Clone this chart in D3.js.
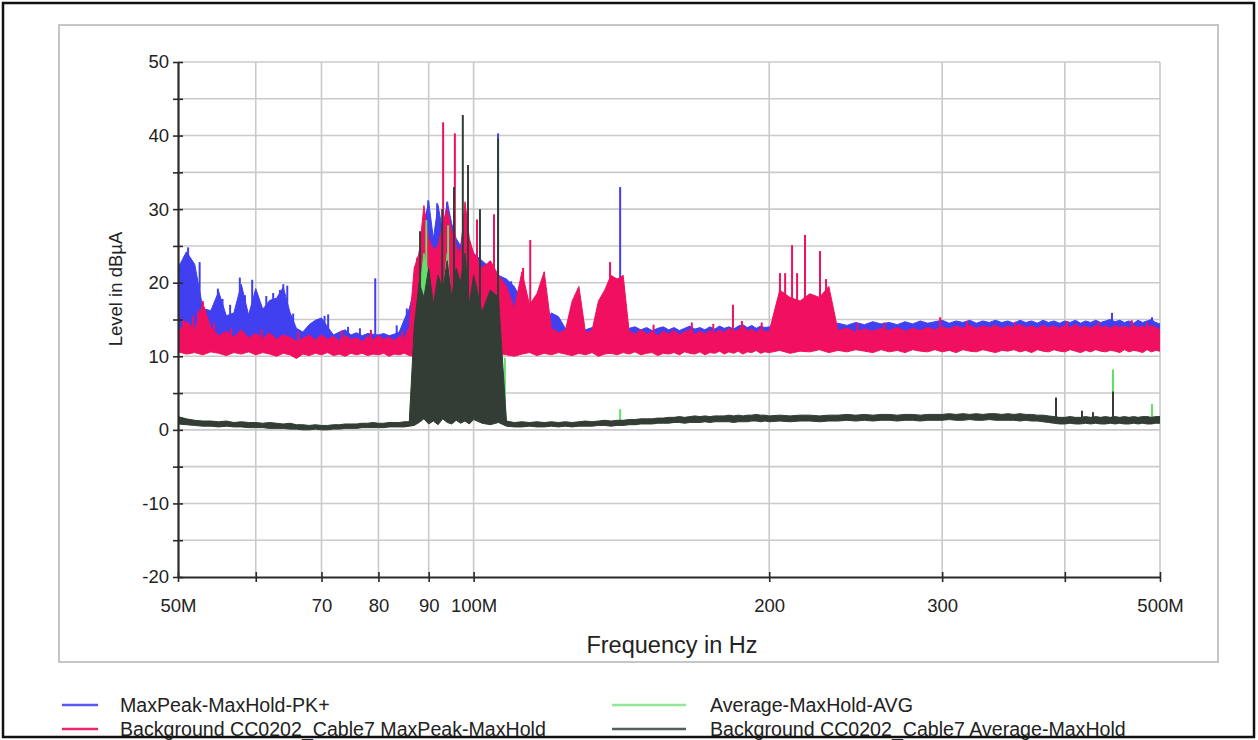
<!DOCTYPE html>
<html>
<head>
<meta charset="utf-8">
<script src="https://cdn.jsdelivr.net/npm/d3@7"></script>
<style>
  body { margin: 0; background: #fff; }
  svg { display: block; }
</style>
</head>
<body>
<svg id="chart" width="1258" height="740"></svg>
<script>
// Sweep frequencies in MHz (one column of the spectrum display per entry)
const sweepMHz = [
  50,51,52,53,54,55,56,57,58,59,
  60,61,62,63,64,65,66,67,68,69,
  70,71,72,73,74,75,76,77,78,79,
  80,81,82,83,84,85,86,87,88,89,
  90,91,92,93,94,95,96,97,98,99,
  100,102,104,106,108,110,112,114,116,118,
  120,122,124,126,128,130,132,134,136,138,
  140,142,144,146,148,150,152,154,156,158,
  160,162,164,166,168,170,172,174,176,178,
  180,182,184,186,188,190,192,194,196,198,
  200,205,210,215,220,225,230,235,240,245,
  250,255,260,265,270,275,280,285,290,295,
  300,305,310,315,320,325,330,335,340,345,
  350,355,360,365,370,375,380,385,390,395,
  400,405,410,415,420,425,430,435,440,445,
  450,455,460,465,470,475,480,485,490,495,
  500
];

// MaxPeak-MaxHold-PK+ : upper / lower envelope per column (dBµA)
const pkHi = [
  22.0,24.2,22.5,16.5,16.2,18.8,15.5,15.9,19.8,15.6,
  19.2,16.4,17.6,17.9,19.4,16.0,13.8,13.3,14.3,14.9,
  15.2,14.0,12.9,13.3,13.6,12.9,13.2,12.8,13.1,13.0,
  12.9,13.1,12.8,13.0,13.3,15.0,16.5,19.0,24.0,28.0,
  31.0,26.0,30.5,27.0,31.0,28.0,26.0,25.0,29.0,25.0,
  24.0,23.0,22.0,21.0,20.5,19.5,17.5,15.5,15.0,14.5,
  15.9,15.4,13.8,13.5,13.7,13.6,13.9,13.5,13.8,14.0,
  13.9,14.2,13.8,14.0,13.6,13.9,13.5,13.8,14.0,13.6,
  13.9,13.5,13.8,14.1,13.7,13.9,13.6,14.0,13.7,14.1,
  13.8,14.0,13.7,14.1,14.3,13.9,14.2,13.8,14.1,13.9,
  14.0,14.2,14.0,14.3,14.1,14.4,14.2,14.5,14.2,14.6,
  14.3,14.7,14.4,14.6,14.3,14.7,14.4,14.8,14.5,14.7,
  14.9,14.5,14.8,14.6,14.9,14.5,14.8,14.6,14.9,14.6,
  14.8,14.5,14.9,14.6,14.8,14.5,14.9,14.6,14.8,14.5,
  14.8,14.6,14.9,14.5,14.8,14.6,14.9,14.6,14.8,15.0,
  14.7,14.9,14.6,14.8,14.5,14.9,14.6,14.8,15.0,14.6,
  14.4
];
const pkLo = [
  11.4,11.0,11.6,11.2,11.5,11.1,11.7,11.3,11.0,11.5,
  11.2,11.6,11.0,11.4,11.1,11.7,11.3,11.0,11.5,11.2,
  11.6,11.1,11.4,11.0,11.5,11.2,11.7,11.3,11.1,11.5,
  11.2,11.6,11.0,11.4,11.3,11.7,11.1,11.5,11.2,11.6,
  11.3,11.0,11.5,11.2,11.6,11.1,11.4,11.7,11.2,11.5,
  11.1,11.6,11.3,11.0,11.5,11.2,11.7,11.4,11.1,11.5,
  11.3,11.6,11.1,11.4,11.7,11.2,11.5,11.0,11.4,11.6,
  11.2,11.5,11.7,11.3,11.6,11.1,11.5,11.8,11.3,11.6,
  11.4,11.7,11.2,11.6,11.8,11.3,11.5,11.7,11.4,11.8,
  11.5,11.7,11.3,11.6,11.8,11.4,11.7,11.5,11.8,11.6,
  11.7,11.4,11.8,11.6,11.9,11.5,11.7,11.8,11.6,11.9,
  11.7,11.5,11.9,11.6,11.8,11.7,11.9,11.6,11.8,11.7,
  11.9,11.6,11.8,11.7,11.9,11.6,11.8,11.7,11.9,11.8,
  11.6,11.9,11.7,11.8,11.6,11.9,11.7,11.8,11.6,11.9,
  11.7,11.8,11.6,11.9,11.7,11.8,11.6,11.9,11.7,11.8,
  11.6,11.9,11.7,11.8,11.6,11.9,11.7,11.8,11.6,11.9,
  11.7
];
// Narrow spurs: [MHz, from dBµA, to dBµA]
const pkSpikes = [
  [50.5,14,21.5],[51.2,14,24.8],[52.6,14,22.8],[54.9,14,19.2],[55.5,14,17.8],
  [56.5,14,17.0],[57.8,14,20.7],[58.5,14,18.3],[59.5,14,20.4],[61.5,14,18.2],
  [62.5,14,18.6],[63.5,14,19.0],[64.0,14,19.8],[64.6,14,19.6],[65.5,13,15.8],
  [69.5,12.5,15.0],[70.5,12.5,15.5],[71.1,12.5,15.7],[74.5,12.5,14.0],[76.6,12.5,13.8],
  [79.4,12.5,20.6],[83.5,12.5,14.2],[85.5,13,16.5],[86.5,13,17.5],[89.9,20,31.2],
  [91.8,20,30.8],[94.0,20,31.0],[105.9,20,40.3],[109.2,14,20.2],[141.0,13,33.0],
  [446.8,14,15.9],[490.7,14,15.3]
];

// Background CC0202_Cable7 MaxPeak-MaxHold
const bgPkHi = [
  13.2,14.8,13.6,17.2,13.9,12.8,13.4,12.6,13.6,12.5,
  13.1,12.4,13.2,12.3,12.9,12.6,12.0,12.4,12.9,12.2,
  12.9,12.3,12.7,12.1,12.8,12.3,12.5,12.0,12.7,12.2,
  12.8,12.3,12.6,12.1,12.7,12.4,14.0,22.0,24.0,30.5,
  26.0,24.5,25.0,28.0,30.0,27.0,25.0,24.0,31.0,26.0,
  24.0,22.0,23.0,21.0,19.5,16.5,21.5,17.0,18.5,21.5,
  13.8,13.2,13.5,17.5,19.5,13.2,13.5,17.5,19.0,21.0,
  20.5,21.0,13.4,13.0,13.6,13.0,13.3,12.8,13.4,13.0,
  13.5,12.9,13.3,13.6,13.0,13.4,13.0,13.5,13.1,13.6,
  13.2,13.8,13.3,13.6,14.2,13.4,13.7,13.2,13.8,13.3,
  13.4,19.0,18.0,17.5,18.5,18.0,19.5,13.5,13.8,13.3,
  13.7,13.4,13.8,13.5,13.9,13.4,13.8,13.5,13.9,13.6,
  14.0,13.7,14.1,13.8,14.2,13.8,14.1,13.9,14.2,13.8,
  14.1,13.9,14.3,13.9,14.1,13.8,14.2,13.9,14.1,13.8,
  14.2,13.9,14.3,13.9,14.1,13.8,14.2,13.9,14.1,13.8,
  14.2,13.9,14.1,13.8,14.2,13.9,14.1,13.8,14.2,13.9,
  13.6
];
const bgPkLo = [
  10.6,10.3,10.5,10.2,10.6,10.4,10.1,10.5,10.3,10.6,
  10.2,10.5,10.3,10.0,10.4,10.2,9.7,10.3,10.1,10.4,
  10.2,10.5,10.1,10.3,10.0,10.4,10.2,10.4,10.1,10.3,
  10.2,10.4,10.0,10.3,10.2,10.4,10.1,10.0,10.2,10.0,
  10.3,10.1,10.2,10.0,10.3,10.1,10.2,10.0,10.2,10.4,
  10.2,10.5,10.1,10.4,10.2,10.0,10.3,10.5,10.1,10.4,
  10.2,10.5,10.3,10.1,10.4,10.2,10.5,10.0,10.3,10.4,
  10.2,10.5,10.3,10.6,10.2,10.4,10.5,10.1,10.4,10.3,
  10.5,10.2,10.6,10.4,10.3,10.6,10.2,10.5,10.4,10.7,
  10.3,10.6,10.4,10.7,10.3,10.6,10.5,10.8,10.4,10.6,
  10.5,10.8,10.4,10.7,10.6,10.9,10.5,10.8,10.6,10.9,
  10.7,10.5,10.9,10.6,10.8,10.5,10.9,10.7,10.6,10.9,
  10.6,10.8,10.5,10.9,10.7,10.6,10.9,10.7,10.5,10.8,
  10.7,10.9,10.6,10.8,10.5,10.9,10.7,10.6,10.9,10.7,
  10.6,10.9,10.7,10.5,10.8,10.6,10.9,10.7,10.6,10.8,
  10.7,10.5,10.9,10.6,10.8,10.7,10.5,10.9,10.6,10.8,
  10.7
];
const bgPkSpikes = [
  [50.6,11,15.0],[51.8,11,15.5],[52.4,11,16.2],[53.0,12,17.5],[54.4,11,14.5],
  [56.6,11,13.8],[60.8,11,13.6],[66.3,10,13.3],[73.4,11,13.5],[78.6,11,13.6],
  [84.6,11,13.4],[87.6,12,23.4],[93.1,20,41.8],[95.7,20,40.3],[98.7,20,32.5],
  [100.8,18,28.6],[104.9,18,29.3],[112.3,14,22.0],[114.2,14,25.8],[137.7,14,22.8],
  [152.5,12,14.3],[166.8,12,14.6],[175.4,12,14.4],[183.7,13,17.0],[187.6,13,14.8],
  [196.5,12,14.6],[205.1,17,21.3],[207.6,17,21.3],[211.0,17,25.1],[213.5,17,21.3],
  [217.5,17,26.5],[225.3,17,24.3],[228.5,17,20.5],[246,12,14.5],[262,12,14.6],
  [298.6,13,15.3],[318,12,14.8],[356,12,14.7],[402,12,14.8],[433,12,14.7],
  [468,12,14.9],[485,12,14.6]
];

// Average-MaxHold-AVG
const avHi = [
  1.7,1.4,1.2,1.1,1.1,1.0,1.1,0.9,1.0,0.9,
  0.9,0.8,0.9,0.8,0.7,0.8,0.6,0.6,0.5,0.6,
  0.5,0.5,0.6,0.6,0.7,0.7,0.7,0.8,0.8,0.9,
  0.8,0.8,0.9,0.9,0.9,1.0,1.0,12.0,18.0,24.0,
  21.0,16.0,19.0,18.0,24.0,17.0,20.0,19.0,22.0,16.0,
  19.0,15.0,17.0,16.0,1.1,0.9,1.0,0.9,1.0,0.9,
  1.0,0.9,1.0,0.9,1.0,1.1,1.0,1.1,1.2,1.1,
  1.2,1.2,1.3,1.3,1.4,1.4,1.4,1.5,1.5,1.6,
  1.6,1.7,1.6,1.7,1.8,1.7,1.8,1.7,1.8,1.8,
  1.8,1.9,1.8,1.9,1.8,1.9,1.9,2.0,1.9,1.9,
  1.8,1.9,1.8,1.9,1.9,1.8,1.9,1.9,2.0,1.9,
  2.0,1.9,2.0,2.0,1.9,2.0,2.0,1.9,2.0,2.0,
  2.0,2.1,2.0,2.1,2.0,2.1,2.0,2.1,2.1,2.0,
  2.1,2.0,2.1,2.0,2.0,1.9,1.9,1.8,1.7,1.6,
  1.6,1.7,1.6,1.6,1.7,1.6,1.7,1.6,1.7,1.6,
  1.7,1.6,1.7,1.6,1.7,1.6,1.7,1.7,1.6,1.7,
  1.7
];
const avLo = [
  0.9,0.8,0.7,0.6,0.6,0.5,0.6,0.5,0.5,0.4,
  0.4,0.4,0.3,0.3,0.3,0.2,0.2,0.1,0.1,0.2,
  0.1,0.1,0.2,0.2,0.3,0.3,0.3,0.4,0.4,0.4,
  0.4,0.4,0.5,0.5,0.5,0.5,0.6,0.7,1.1,1.6,
  0.9,1.3,0.8,1.6,1.1,0.9,1.4,1.0,1.3,0.9,
  1.5,1.0,0.8,1.1,0.6,0.5,0.5,0.6,0.5,0.5,
  0.6,0.5,0.6,0.5,0.6,0.6,0.6,0.7,0.7,0.6,
  0.7,0.7,0.8,0.8,0.9,0.9,0.9,1.0,1.0,1.0,
  1.1,1.1,1.0,1.1,1.1,1.1,1.2,1.1,1.2,1.2,
  1.2,1.2,1.1,1.2,1.2,1.2,1.3,1.3,1.2,1.3,
  1.2,1.3,1.2,1.3,1.3,1.2,1.3,1.3,1.4,1.3,
  1.4,1.3,1.4,1.4,1.3,1.4,1.4,1.3,1.4,1.4,
  1.4,1.5,1.4,1.4,1.5,1.4,1.4,1.5,1.4,1.4,
  1.4,1.4,1.3,1.4,1.3,1.3,1.2,1.1,1.0,0.9,
  0.9,1.0,0.9,0.9,1.0,0.9,1.0,0.9,0.9,1.0,
  0.9,1.0,0.9,0.9,1.0,0.9,1.0,0.9,0.9,1.0,
  1.0
];
const avSpikes = [
  [89.5,16,28.5],[94.2,20,27.8],[107.6,1.2,9.8],[141.0,1.0,2.8],
  [447.8,1.8,8.2],[490.7,1.7,3.5]
];

// Background CC0202_Cable7 Average-MaxHold
const bgAvHi = [
  1.8,1.5,1.3,1.2,1.2,1.1,1.2,1.0,1.1,1.0,
  1.0,0.9,1.0,0.9,0.8,0.9,0.7,0.7,0.6,0.7,
  0.6,0.6,0.7,0.7,0.8,0.8,0.8,0.9,0.9,1.0,
  0.9,0.9,1.0,1.0,1.0,1.1,1.1,14.0,20.0,18.0,
  22.0,17.0,21.0,19.0,23.0,18.0,22.0,20.0,24.0,17.0,
  21.0,16.0,19.0,18.0,1.2,1.0,1.1,1.0,1.1,1.0,
  1.1,1.0,1.1,1.0,1.1,1.2,1.1,1.2,1.3,1.2,
  1.3,1.3,1.4,1.4,1.5,1.5,1.5,1.6,1.6,1.7,
  1.7,1.8,1.7,1.8,1.9,1.8,1.9,1.8,1.9,1.9,
  1.9,2.0,1.9,2.0,1.9,2.0,2.0,2.1,2.0,2.0,
  1.9,2.0,1.9,2.0,2.0,1.9,2.0,2.0,2.1,2.0,
  2.1,2.0,2.1,2.1,2.0,2.1,2.1,2.0,2.1,2.1,
  2.1,2.2,2.1,2.2,2.1,2.2,2.1,2.2,2.2,2.1,
  2.2,2.1,2.2,2.1,2.1,2.0,2.0,1.9,1.8,1.7,
  1.7,1.8,1.7,1.7,1.8,1.7,1.8,1.7,1.8,1.7,
  1.8,1.7,1.8,1.7,1.8,1.7,1.8,1.8,1.7,1.8,
  1.8
];
const bgAvLo = [
  0.8,0.7,0.6,0.5,0.5,0.4,0.5,0.4,0.4,0.3,
  0.3,0.3,0.2,0.2,0.2,0.1,0.1,0.0,0.0,0.1,
  0.0,0.0,0.1,0.1,0.2,0.2,0.2,0.3,0.3,0.3,
  0.3,0.3,0.4,0.4,0.4,0.4,0.5,0.6,1.0,1.5,
  0.8,1.2,0.7,1.5,1.0,0.8,1.3,0.9,1.2,0.8,
  1.4,0.9,0.7,1.0,0.5,0.4,0.4,0.5,0.4,0.4,
  0.5,0.4,0.5,0.4,0.5,0.5,0.5,0.6,0.6,0.5,
  0.6,0.6,0.7,0.7,0.8,0.8,0.8,0.9,0.9,0.9,
  1.0,1.0,0.9,1.0,1.0,1.0,1.1,1.0,1.1,1.1,
  1.1,1.1,1.0,1.1,1.1,1.1,1.2,1.2,1.1,1.2,
  1.1,1.2,1.1,1.2,1.2,1.1,1.2,1.2,1.3,1.2,
  1.3,1.2,1.3,1.3,1.2,1.3,1.3,1.2,1.3,1.3,
  1.3,1.4,1.3,1.3,1.4,1.3,1.3,1.4,1.3,1.3,
  1.3,1.3,1.2,1.3,1.2,1.2,1.1,1.0,0.9,0.8,
  0.8,0.9,0.8,0.8,0.9,0.8,0.9,0.8,0.8,0.9,
  0.8,0.9,0.8,0.8,0.9,0.8,0.9,0.8,0.8,0.9,
  0.9
];
const bgAvSpikes = [
  [88.2,8,27.0],[92.9,8,30.0],[95.5,8,33.0],[97.5,5,42.8],[98.7,5,36.0],
  [101.5,5,30.0],[105.9,5,39.6],[391.8,1.5,4.4],[416.4,1.2,2.6],[427.3,1.2,2.4],
  [447.8,1.5,5.2]
];

// Axis ticks and labels
const xTicks = [50, 60, 70, 80, 90, 100, 200, 300, 400, 500];
const xTickLabels = ["50M", "", "70", "80", "90", "100M", "200", "300", "", "500M"];
const yTicks = [-20, -15, -10, -5, 0, 5, 10, 15, 20, 25, 30, 35, 40, 45, 50];
const yTickLabels = [-20, -10, 0, 10, 20, 30, 40, 50];

const seriesNames = [
  "MaxPeak-MaxHold-PK+",
  "Background CC0202_Cable7 MaxPeak-MaxHold",
  "Average-MaxHold-AVG",
  "Background CC0202_Cable7 Average-MaxHold"
];
const seriesColors = ["#4040f0", "#f0105f", "#5fe06a", "#333d36"];
const legendColors = ["#5a5af2", "#f0256e", "#8ee895", "#56605a"];

const FONT = '"Liberation Sans", Arial, Helvetica, sans-serif';
const svg = d3.select("#chart");

const plot = { left: 178, right: 1160, top: 62, bottom: 577 };
const x = d3.scaleLog().domain([50, 500]).range([plot.left, plot.right]);
const y = d3.scaleLinear().domain([-20, 50]).range([plot.bottom, plot.top]);

// outer black frame and grey chart frame
svg.append("rect").attr("x", 3).attr("y", 3).attr("width", 1251).attr("height", 734)
  .attr("fill", "#fff").attr("stroke", "#111").attr("stroke-width", 2.5);
svg.append("rect").attr("x", 59).attr("y", 25).attr("width", 1159).attr("height", 637)
  .attr("fill", "#fff").attr("stroke", "#b8b8b8").attr("stroke-width", 1.6);

// grid
const grid = svg.append("g").attr("stroke", "#cacaca").attr("stroke-width", 1.6);
grid.selectAll("line.h").data(yTicks.filter(v => v > -20)).join("line")
  .attr("x1", plot.left).attr("x2", plot.right)
  .attr("y1", d => y(d)).attr("y2", d => y(d));
grid.selectAll("line.v").data(xTicks.filter(v => v > 50)).join("line")
  .attr("x1", d => x(d)).attr("x2", d => x(d))
  .attr("y1", plot.top).attr("y2", plot.bottom);

// traces
svg.append("clipPath").attr("id", "plotClip").append("rect")
  .attr("x", plot.left).attr("y", plot.top)
  .attr("width", plot.right - plot.left).attr("height", plot.bottom - plot.top);
const traces = svg.append("g").attr("clip-path", "url(#plotClip)");

function drawTrace(hi, lo, spikes, color) {
  const area = d3.area()
    .x((d, i) => x(sweepMHz[i]))
    .y0((d, i) => y(lo[i]))
    .y1((d, i) => y(hi[i]));
  traces.append("path").datum(hi).attr("d", area)
    .attr("fill", color).attr("stroke", color).attr("stroke-width", 1)
    .attr("stroke-linejoin", "round");
  traces.append("g").selectAll("line").data(spikes).join("line")
    .attr("x1", d => x(d[0])).attr("x2", d => x(d[0]))
    .attr("y1", d => y(d[1])).attr("y2", d => y(d[2]))
    .attr("stroke", color).attr("stroke-width", 2);
}
drawTrace(pkHi, pkLo, pkSpikes, seriesColors[0]);
drawTrace(bgPkHi, bgPkLo, bgPkSpikes, seriesColors[1]);
drawTrace(avHi, avLo, avSpikes, seriesColors[2]);
drawTrace(bgAvHi, bgAvLo, bgAvSpikes, seriesColors[3]);

// axes
function styleAxis(g, horizontal) {
  g.select(".domain").attr("stroke", "#2a2a2a").attr("stroke-width", 2.2);
  g.selectAll(".tick line").attr("stroke", "#2a2a2a").attr("stroke-width", 1.6);
  if (horizontal) g.selectAll(".tick line").attr("y1", -5).attr("y2", 5);
  else g.selectAll(".tick line").attr("x1", -5).attr("x2", 5);
  g.selectAll(".tick text").attr("font-family", FONT).attr("font-size", 18.5)
    .attr("fill", "#222");
}
const yAxis = svg.append("g").attr("transform", `translate(${plot.left},0)`)
  .call(d3.axisLeft(y).tickValues(yTicks).tickSize(5).tickSizeOuter(0).tickPadding(4)
    .tickFormat(v => yTickLabels.includes(v) ? String(v) : ""));
styleAxis(yAxis, false);

const xAxis = svg.append("g").attr("transform", `translate(0,${plot.bottom})`)
  .call(d3.axisBottom(x).tickValues(xTicks).tickSize(5).tickSizeOuter(0).tickPadding(17)
    .tickFormat((v, i) => xTickLabels[i]));
styleAxis(xAxis, true);

// axis titles
svg.append("text").attr("transform", "translate(122,289) rotate(-90)")
  .attr("text-anchor", "middle").attr("font-family", FONT).attr("font-size", 18.5)
  .attr("fill", "#222").text("Level in dBµA");
svg.append("text").attr("x", 672).attr("y", 653)
  .attr("text-anchor", "middle").attr("font-family", FONT).attr("font-size", 23.5)
  .attr("fill", "#222").text("Frequency in Hz");

// legend
const legendPos = [[62, 705], [62, 729], [612, 705], [612, 729]];
const legend = svg.append("g");
seriesNames.forEach((name, i) => {
  const [lx, ly] = legendPos[i];
  const len = i < 2 ? 36 : 74;
  legend.append("line").attr("x1", lx).attr("x2", lx + len)
    .attr("y1", ly).attr("y2", ly)
    .attr("stroke", legendColors[i]).attr("stroke-width", 2.5);
  legend.append("text").attr("x", i < 2 ? 120 : 710).attr("y", ly + 6.5)
    .attr("font-family", FONT).attr("font-size", 19.6).attr("fill", "#222")
    .text(name);
});
</script>
</body>
</html>
